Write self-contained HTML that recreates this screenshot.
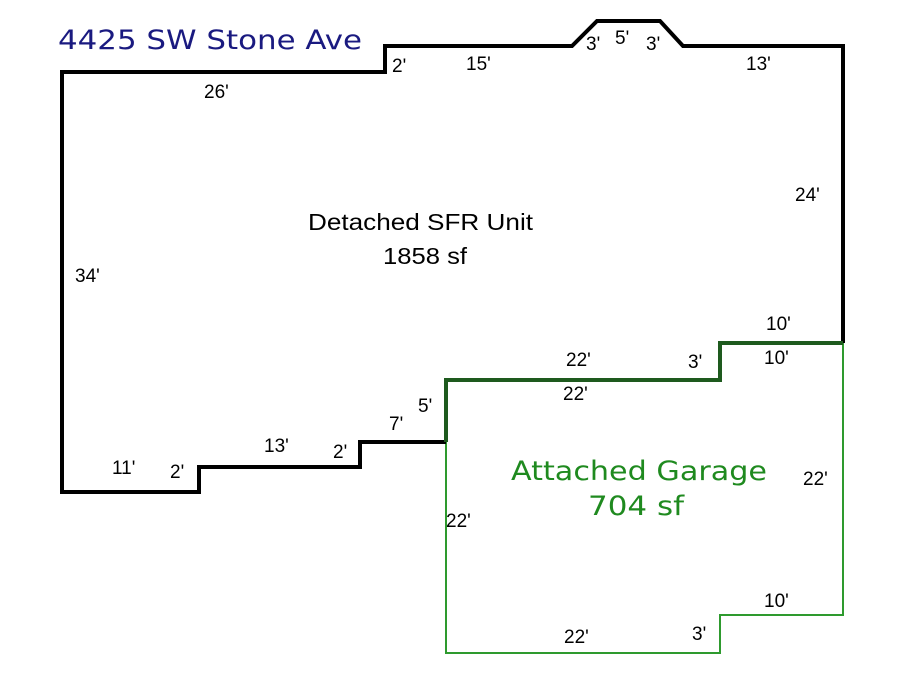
<!DOCTYPE html>
<html><head><meta charset="utf-8"><style>
html,body{margin:0;padding:0;background:#fff;}
svg text{font-family:"Liberation Sans",sans-serif;font-size:19px;fill:#000;}
svg text.w{font-family:"DejaVu Sans","Liberation Sans",sans-serif;font-size:27px;}
</style></head><body>
<svg width="900" height="675" viewBox="0 0 900 675" xmlns="http://www.w3.org/2000/svg">
<rect width="900" height="675" fill="#fff"/>
<polyline points="446,442 446,653 720,653 720,615 843,615 843,343" fill="none" stroke="#2e9a2e" stroke-width="2"/>
<polyline points="446,442 360,442 360,467 199,467 199,492 62,492 62,72 385,72 385,46 572,46 597,21 660,21 683,46 843,46 843,343" fill="none" stroke="#000" stroke-width="4" stroke-linejoin="miter"/>
<polyline points="446,442 446,380 720,380 720,343 843,343" fill="none" stroke="#1e5a1e" stroke-width="4"/>
<text class="w" x="58" y="49" textLength="304" lengthAdjust="spacingAndGlyphs" style="fill:#1a1a80">4425 SW Stone Ave</text>
<text x="204" y="98">26'</text>
<text x="392" y="72">2'</text>
<text x="466" y="70">15'</text>
<text x="586" y="50">3'</text>
<text x="615" y="44">5'</text>
<text x="646" y="50">3'</text>
<text x="746" y="70">13'</text>
<text x="795" y="201">24'</text>
<text x="75" y="282">34'</text>
<text x="308" y="230" style="font-size:23px" textLength="225" lengthAdjust="spacingAndGlyphs">Detached SFR Unit</text>
<text x="383" y="264" style="font-size:23px" textLength="84" lengthAdjust="spacingAndGlyphs">1858 sf</text>
<text x="766" y="330">10'</text>
<text x="764" y="364">10'</text>
<text x="566" y="366">22'</text>
<text x="688" y="368">3'</text>
<text x="563" y="400">22'</text>
<text x="418" y="412">5'</text>
<text x="389" y="430">7'</text>
<text x="264" y="452">13'</text>
<text x="333" y="458">2'</text>
<text x="112" y="474">11'</text>
<text x="170" y="478">2'</text>
<text class="w" x="511" y="480" textLength="256" lengthAdjust="spacingAndGlyphs" style="fill:#1f8a1f">Attached Garage</text>
<text class="w" x="588" y="515" textLength="96" lengthAdjust="spacingAndGlyphs" style="fill:#1f8a1f">704 sf</text>
<text x="803" y="485">22'</text>
<text x="446" y="527">22'</text>
<text x="764" y="607">10'</text>
<text x="564" y="643">22'</text>
<text x="692" y="640">3'</text>
</svg>
</body></html>
